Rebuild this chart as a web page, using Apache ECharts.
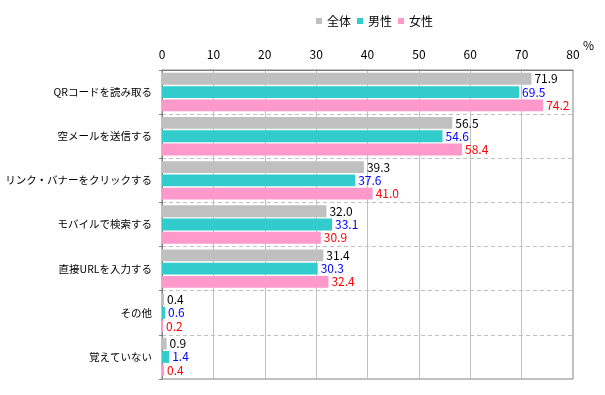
<!DOCTYPE html>
<html><head><meta charset="utf-8">
<script src="https://cdn.jsdelivr.net/npm/echarts@6/dist/echarts.min.js"></script>
<style>html,body{margin:0;padding:0;background:#fff}#c{width:605px;height:395px}</style>
</head><body><div id="c"></div>
<script>
const categories = ['QRコードを読み取る','空メールを送信する','リンク・バナーをクリックする','モバイルで検索する','直接URLを入力する','その他','覚えていない'];
const seriesNames = ['全体','男性','女性'];
const total = [71.9, 56.5, 39.3, 32.0, 31.4, 0.4, 0.9];
const male = [69.5, 54.6, 37.6, 33.1, 30.3, 0.6, 1.4];
const female = [74.2, 58.4, 41.0, 30.9, 32.4, 0.2, 0.4];
const xTicks = [0, 10, 20, 30, 40, 50, 60, 70, 80];

const FONT = '"Noto Sans CJK JP", sans-serif';
const barColors = ['#c0c0c0', '#33cccc', '#ff99cc'];
const labelColors = ['#000000', '#0000ff', '#ff0000'];
const datasets = [total, male, female];

const chart = echarts.init(document.getElementById('c'));
chart.setOption({
  animation: false,
  textStyle: { fontFamily: FONT },
  legend: {
    data: seriesNames, top: 10, left: 311, itemWidth: 6, itemHeight: 6, itemGap: 6,
    icon: 'rect', textStyle: { fontSize: 12, color: '#000', fontFamily: FONT }
  },
  graphic: [{ type: 'text', left: 583, top: 39, style: { text: '%', fontSize: 12, fill: '#000', fontFamily: FONT } }],
  grid: { left: 162, right: 32, top: 70, bottom: 16, show: true, borderColor: '#808080', borderWidth: 1, containLabel: false, outerBoundsMode: 'none' },
  xAxis: {
    type: 'value', position: 'top', min: xTicks[0], max: xTicks[xTicks.length - 1], interval: 10,
    axisLine: { show: true, lineStyle: { color: '#808080' } },
    axisTick: { show: false },
    axisLabel: { fontSize: 12, color: '#000', margin: 10, fontFamily: FONT },
    splitLine: { show: true, lineStyle: { color: '#c0c0c0', type: 'solid' } }
  },
  yAxis: {
    type: 'category', data: categories, inverse: true,
    axisLine: { show: true, lineStyle: { color: '#808080' } },
    axisTick: { show: true, length: 3, lineStyle: { color: '#808080' } },
    axisLabel: { fontSize: 10.5, color: '#000', margin: 10, fontFamily: FONT },
    splitLine: { show: true, lineStyle: { color: '#c0c0c0', type: [4, 3] } }
  },
  series: seriesNames.map((n, i) => ({
    name: n, type: 'bar', data: datasets[i],
    barGap: '12%', barCategoryGap: '13%',
    itemStyle: { color: barColors[i] },
    label: {
      show: true, position: 'right', distance: 3, fontSize: 12, color: labelColors[i], fontFamily: FONT,
      formatter: p => p.value.toFixed(1)
    }
  }))
});
</script></body></html>
